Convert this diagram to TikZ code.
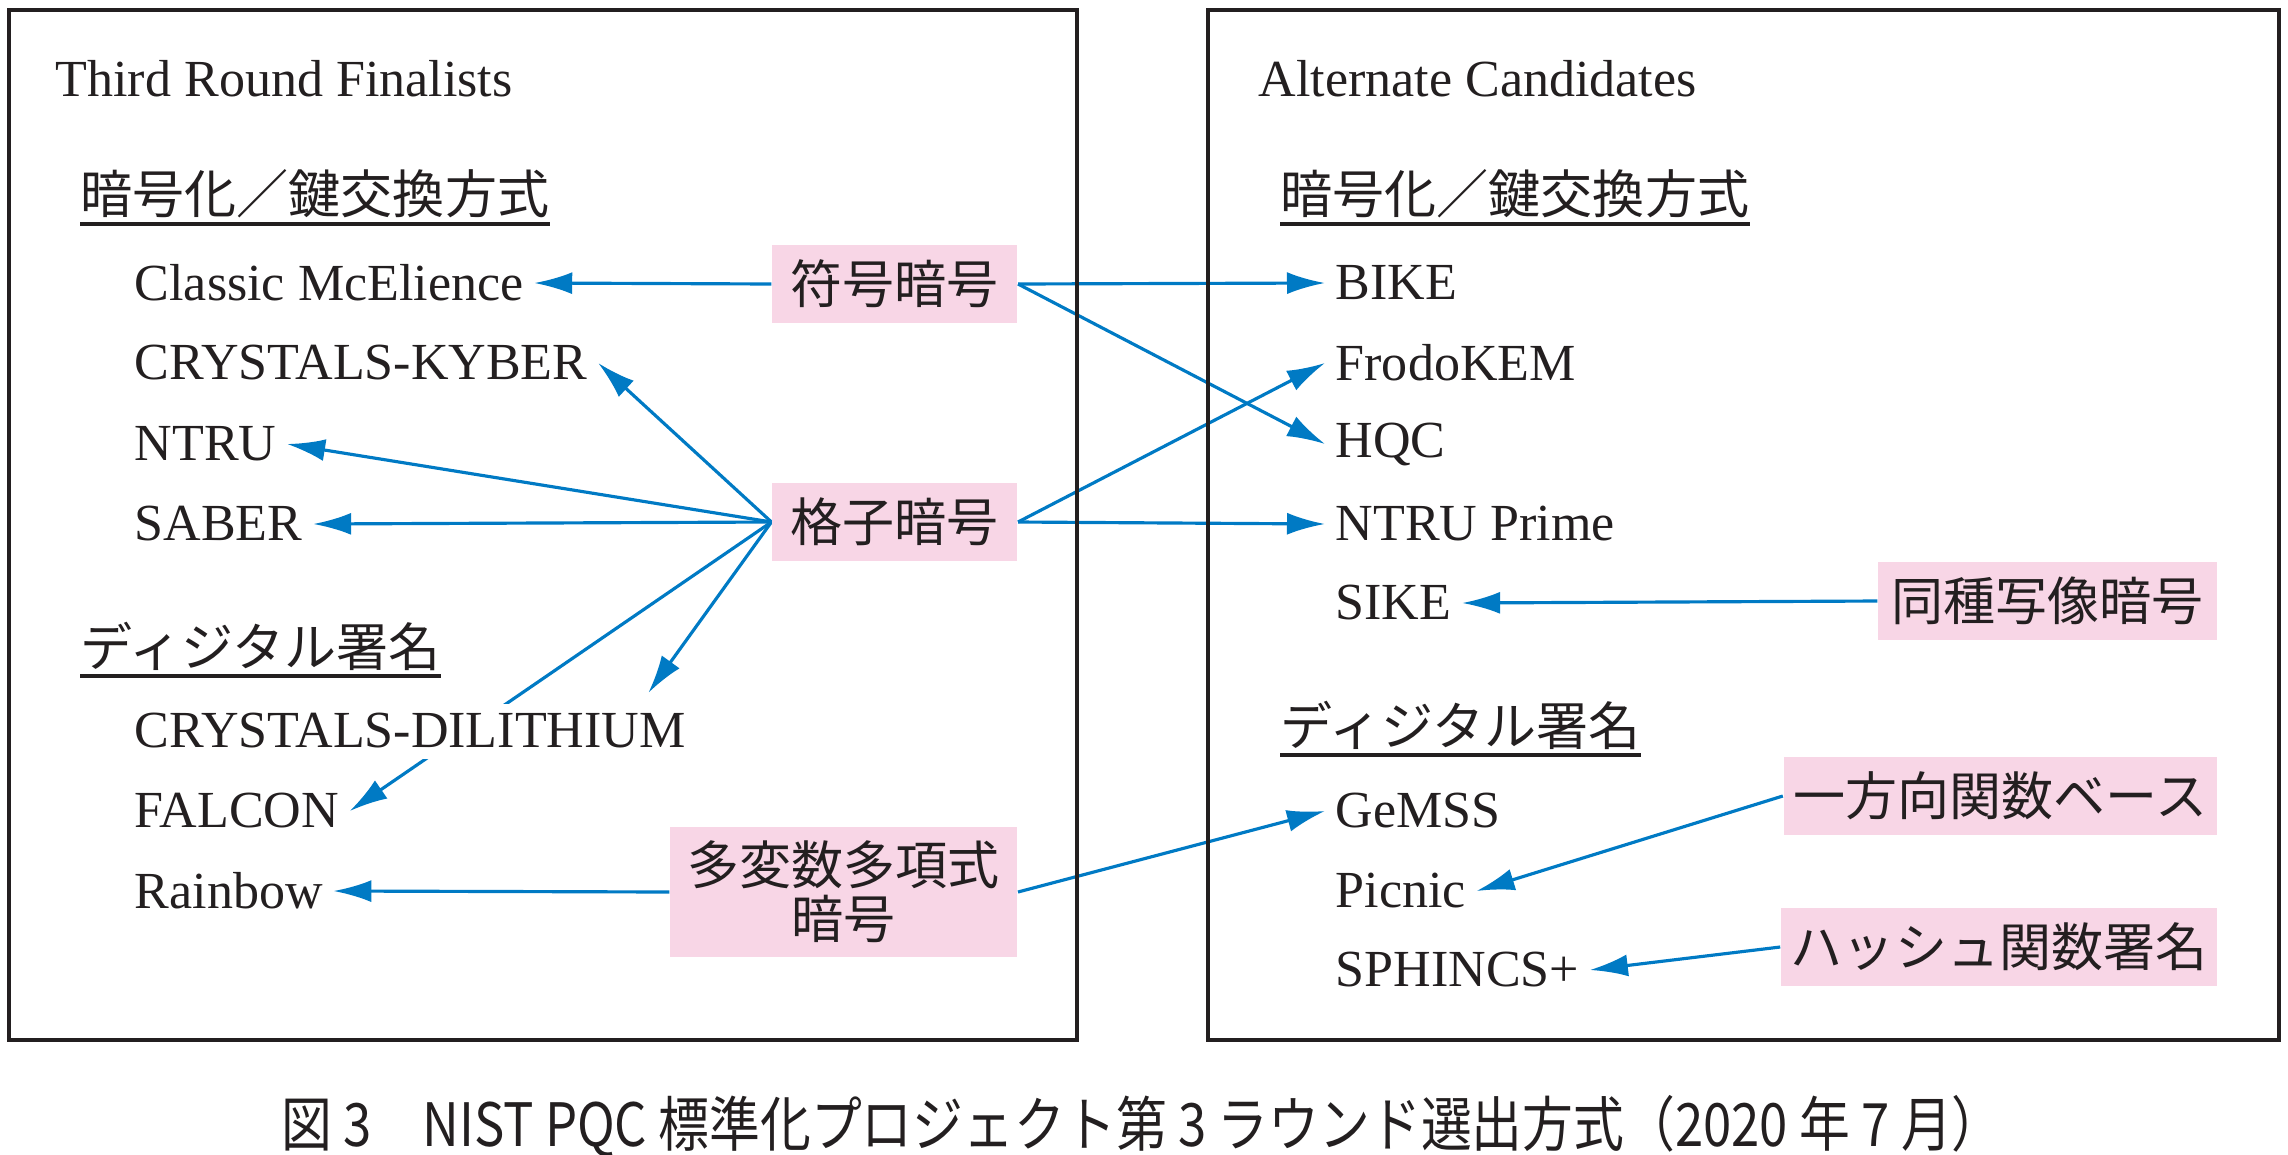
\documentclass[tikz,border=0pt]{standalone}
\usepackage{fontspec}
\usepackage{graphicx}
\setmainfont{Liberation Serif}
\newfontfamily\jp{Noto Sans CJK JP}
\usetikzlibrary{arrows.meta}
\usetikzlibrary{backgrounds}
\usetikzlibrary{calc}
\definecolor{pqcblue}{RGB}{0,122,196}
\definecolor{pqcpink}{RGB}{248,214,230}
\definecolor{pqcdark}{RGB}{35,31,32}
\newcommand{\bodysize}{\fontsize{14.8pt}{18pt}\selectfont}

\begin{document}
\begin{tikzpicture}[x=0.01cm,y=-0.01cm,>={Latex[length=3.8mm,width=2.2mm]},
    text=pqcdark, frame/.style={draw=pqcdark,line width=0.9pt},
    title node/.style={anchor=west,inner sep=0pt,font=\bodysize},
    head node/.style={anchor=west,inner xsep=0pt,inner ysep=0.05cm,font=\jp\bodysize},
    item node/.style={anchor=west,fill=white,inner sep=0.1cm,font=\bodysize},
    pink node/.style={anchor=east,fill=pqcpink,minimum height=0.78cm,inner xsep=0.1cm,font=\jp\bodysize},
    link/.style={color=pqcblue,line width=0.9pt}]
  \useasboundingbox (0,0) rectangle (2288,1154);
  % the two panels
  \draw[frame] (9,10) rectangle (1077,1040);
  \draw[frame] (1208,10) rectangle (2279,1040);

  \begin{scope}%left panel
    \node[title node] (finalists) at (55,79) {Third Round Finalists};
    \node[head node] (lkem) at (80,194) {暗号化／鍵交換方式};
    \draw[frame] (lkem.south west) -- (lkem.south east);
    \node[item node] (mceliece) at (124,283) {Classic McElience};
    \node[item node] (kyber) at (124,363) {CRYSTALS-KYBER};
    \node[item node] (ntru) at (124,444) {NTRU};
    \node[item node] (saber) at (124,524) {SABER};
    \node[head node] (lsig) at (80,646) {ディジタル署名};
    \draw[frame] (lsig.south west) -- (lsig.south east);
    \node[item node] (dilithium) at (124,731) {CRYSTALS-DILITHIUM};
    \node[item node] (falcon) at (124,811) {FALCON};
    \node[item node] (rainbow) at (124,891) {Rainbow};
    \node[pink node,minimum width=2.45cm] (code) at (1018,284) {符号暗号};
    \node[pink node,minimum width=2.45cm] (lattice) at (1018,522) {格子暗号};
    \node[pink node,minimum width=3.47cm,minimum height=1.3cm,align=center,
      font=\jp\fontsize{14.8pt}{15.3pt}\selectfont] (multi) at (1018,892) {多変数多項式\\暗号};
  \end{scope}

  \begin{scope}%right panel
    \node[title node] (alternates) at (1258,79) {Alternate Candidates};
    \node[head node] (rkem) at (1280,194) {暗号化／鍵交換方式};
    \draw[frame] (rkem.south west) -- (rkem.south east);
    \node[item node] (bike) at (1325,283) {BIKE};
    \node[item node] (frodo) at (1325,363) {FrodoKEM};
    \node[item node] (hqc) at (1325,444) {HQC};
    \node[item node] (ntruprime) at (1325,524) {NTRU Prime};
    \node[item node] (sike) at (1325,603) {SIKE};
    \node[head node] (rsig) at (1280,725) {ディジタル署名};
    \draw[frame] (rsig.south west) -- (rsig.south east);
    \node[item node] (gemss) at (1325,811) {GeMSS};
    \node[item node] (picnic) at (1325,891) {Picnic};
    \node[item node] (sphincs) at (1325,970) {SPHINCS+};
    \node[pink node,minimum width=3.39cm] (isogeny) at (2218,601) {同種写像暗号};
    \node[pink node,minimum width=4.32cm] (oneway) at (2218,796) {一方向関数ベース};
    \node[pink node,minimum width=4.13cm] (hash) at (2218,947) {ハッシュ関数署名};
  \end{scope}

  \begin{pgfonlayer}{background}
    \path[->,link] (code.west) edge (mceliece.east);
    \path[->,link] (code.east) edge (bike.west);
    \path[->,link] (code.east) edge (hqc.west);
    \path[->,link] (lattice.west) edge (kyber.east);
    \path[->,link] (lattice.west) edge (ntru.east);
    \path[->,link] (lattice.west) edge (saber.east);
    \path[->,link] (lattice.west) edge ($(dilithium.north east)+(-48,-10)$);
    \path[->,link] (lattice.west) edge (falcon.east);
    \path[->,link] (lattice.east) edge (frodo.west);
    \path[->,link] (lattice.east) edge (ntruprime.west);
    \path[->,link] (multi.west) edge (rainbow.east);
    \path[->,link] (multi.east) edge (gemss.west);
    \path[->,link] (isogeny.west) edge (sike.east);
    \path[->,link] (oneway.west) edge (picnic.east);
    \path[->,link] (hash.west) edge (sphincs.east);
  \end{pgfonlayer}

  \node[font=\jp\fontsize{17pt}{20pt}\selectfont] (caption) at (1142,1126)
    {\scalebox{0.85}[1]{図 3　NIST PQC 標準化プロジェクト第 3 ラウンド選出方式（2020 年 7 月）}};
\end{tikzpicture}
\end{document}
